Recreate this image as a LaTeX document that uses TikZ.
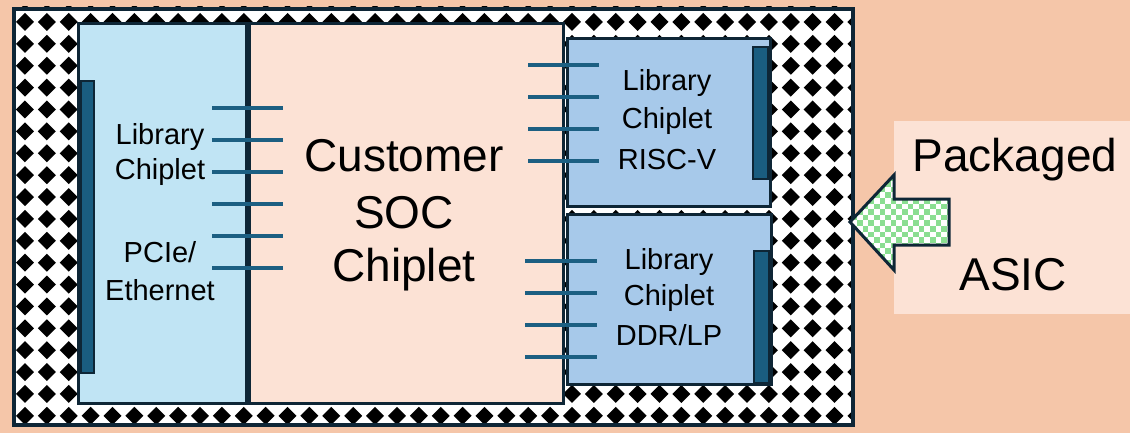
\documentclass[tikz,border=0pt]{standalone}
\usepackage{fontspec}
\setmainfont{Liberation Sans}
\definecolor{bgpeach}{HTML}{F5C6A9}
\definecolor{lightpeach}{HTML}{FCE2D5}
\definecolor{lblue}{HTML}{C0E4F4}
\definecolor{mblue}{HTML}{A7C9EA}
\definecolor{barblue}{HTML}{1A5D80}
\definecolor{navy}{HTML}{0E2636}
\definecolor{pinblue}{HTML}{1C5F82}
\definecolor{lgreen}{HTML}{8ADE91}
\begin{document}
\begin{tikzpicture}[x=1pt,y=-1pt,
  box/.style={draw=navy,line width=3pt,rectangle,anchor=north west,inner sep=0pt},
  bar/.style={draw=navy,fill=barblue,line width=2pt,rectangle,anchor=north west,inner sep=0pt},
  pin/.style={draw=pinblue,line width=3.5pt},
  small/.style={font=\fontsize{29}{38}\selectfont,align=center,inner sep=0pt},
  big/.style={font=\fontsize{46}{57}\selectfont,align=center,inner sep=0pt}]
\fill[bgpeach] (0,0) rectangle (1130,433);
\useasboundingbox (0,0) rectangle (1130,433);
% package substrate with diamond pattern
\fill[white] (12,7) rectangle (851,423);
\begin{scope}
\clip (12,7) rectangle (851,423);
\foreach \i in {0,...,39}{
  \foreach \j in {0,...,19}{
    \fill[black] ({3.1+21.88*\i},{0.1+21.88*\j}) ++(-9,0) -- ++(9,-9) -- ++(9,9) -- ++(-9,9) -- cycle;
  }
}
\end{scope}
\node[box,line width=4pt,minimum width=839pt,minimum height=416pt] (pkg) at (12,7) {};
% chiplets
\node[box,fill=lblue,minimum width=168pt,minimum height=380pt] (left) at (77,22) {};
\node[box,fill=lightpeach,minimum width=317pt,minimum height=380pt] (soc) at (245,22) {};
\node[box,fill=mblue,minimum width=203pt,minimum height=168pt] (risc) at (566,37) {};
\node[box,fill=mblue,minimum width=204pt,minimum height=170pt] (ddr) at (566,213) {};
\draw[navy,line width=5pt] (left.north east) -- (left.south east);
% bars
\node[bar,minimum width=13pt,minimum height=292pt] (lbar) at (80,80) {};
\node[bar,minimum width=15pt,minimum height=132pt] (rbar) at (752,46) {};
\node[bar,minimum width=15pt,minimum height=132pt] (dbar) at (753,250) {};
% pins
\foreach \y in {108,140,172,204,236,268}{\draw[pin] (212,\y) -- (283,\y);}
\foreach \y in {65,97,129,161}{\draw[pin] (528,\y) -- (599,\y);}
\foreach \y in {261,293,325,357}{\draw[pin] (525,\y) -- (597,\y);}
% texts
\node[small] (t1) at (160,137) {Library};
\node[small] (t2) at (160,172) {Chiplet};
\node[small] (t3) at (160,252) {PCIe/};
\node[small] (t4) at (160,290) {Ethernet};
\node[big] (c1) at (404,156) {Customer};
\node[big] (c2) at (404,213) {SOC};
\node[big] (c3) at (404,270) {Chiplet};
\node[small] (r1) at (667,83) {Library};
\node[small] (r2) at (667,121) {Chiplet};
\node[small] (r3) at (667,160) {RISC-V};
\node[small] (d1) at (669,262) {Library};
\node[small] (d2) at (669,298) {Chiplet};
\node[small] (d3) at (669,335) {DDR/LP};
% right panel
\fill[lightpeach] (894,121) rectangle (1130,314);
\node[big] (p1) at (1015,160) {Packaged};
\node[big] (p2) at (1013,275) {ASIC};
% arrow
\coordinate (tip) at (850,222);
\begin{scope}
\clip (tip) -- (894,175) -- (894,199) -- (949,199) -- (949,245) -- (894,245) -- (894,270) -- cycle;
\fill[lgreen] (845,170) rectangle (955,275);
\foreach \i in {0,...,19}{
  \foreach \j in {0,...,19}{
    \pgfmathtruncatemacro{\cpar}{mod(\i+\j,2)}
    \ifnum\cpar=0
      \fill[white] ({846+5.6*\i},{170+5.6*\j}) rectangle ++(5.6,5.6);
    \fi
  }
}
\end{scope}
\draw[navy,line width=3pt,line join=miter] (tip) -- (894,175) -- (894,199) -- (949,199) -- (949,245) -- (894,245) -- (894,270) -- cycle;
\end{tikzpicture}
\end{document}
